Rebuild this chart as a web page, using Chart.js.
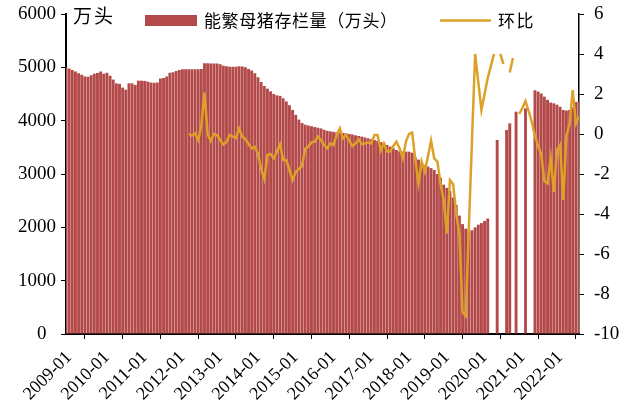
<!DOCTYPE html>
<html>
<head>
<meta charset="utf-8">
<script src="https://cdn.jsdelivr.net/npm/chart.js@4.4.0/dist/chart.umd.min.js"></script>
<style>
  html, body { margin: 0; padding: 0; background: #fff; }
</style>
</head>
<body>
<canvas id="chart" width="620" height="403"></canvas>
<script>
// monthly series, index 0 = 2009-01, last = 2022-08
const startYear = 2009;
const sowStock = [
  4990, 4980, 4950, 4920, 4890, 4860, 4830, 4825, 4850, 4880, 4895, 4920,   // 2009
  4880, 4900, 4840, 4770, 4700, 4690, 4620, 4580, 4700, 4700, 4670, 4750,   // 2010
  4750, 4745, 4730, 4715, 4710, 4715, 4790, 4800, 4830, 4900, 4910, 4930,   // 2011
  4950, 4963, 4963, 4963, 4963, 4963, 4963, 4970, 5075, 5075, 5070, 5070,   // 2012
  5070, 5060, 5030, 5020, 5013, 5013, 5010, 5020, 5015, 5000, 4970, 4940,   // 2013
  4890, 4815, 4725, 4650, 4600, 4550, 4500, 4475, 4465, 4420, 4360, 4290,   // 2014
  4200, 4110, 4020, 3955, 3925, 3910, 3895, 3880, 3868, 3856, 3830, 3810,   // 2015
  3800, 3790, 3780, 3775, 3770, 3763, 3750, 3740, 3725, 3712, 3700, 3685,   // 2016
  3669, 3653, 3638, 3619, 3600, 3575, 3544, 3513, 3481, 3450, 3425, 3420,   // 2017
  3420, 3419, 3400, 3310, 3270, 3210, 3170, 3140, 3110, 3075, 3000, 2930,   // 2018
  2800, 2740, 2680, 2560, 2420, 2220, 2060, 1975, 1950, 1945, 2000, 2050,   // 2019
  2080, 2120, 2165, null, null, 3638, null, null, 3825, 3950, null, 4169,   // 2020
  null, null, 4231, null, null, 4570, 4545, 4510, 4450, 4390, 4340, 4325,   // 2021
  4300, 4260, 4200, 4190, 4200, 4250, 4350, 4360                            // 2022
];
const momChange = [
  null, null, null, null, null, null, null, null, null, null, null, null,   // 2009
  null, null, null, null, null, null, null, null, null, null, null, null,   // 2010
  null, null, null, null, null, null, null, null, null, null, null, null,   // 2011
  null, null, null, 0.0, -0.08, 0.03, -0.3, 0.45, 2.08, 0.0, -0.35, 0.0,     // 2012
  -0.05, -0.3, -0.52, -0.4, -0.05, -0.13, -0.2, 0.28, -0.13, -0.25, -0.5, -0.72,
  -0.65, -1.0, -1.75, -2.25, -1.05, -1.0, -1.22, -0.88, -0.52, -1.3, -1.3, -1.8,
  -2.3, -1.9, -1.75, -1.6, -0.75, -0.63, -0.42, -0.38, -0.13, -0.3, -0.55, -0.72,
  -0.47, -0.55, -0.05, 0.28, -0.22, -0.05, -0.33, -0.6, -0.47, -0.27, -0.5, -0.47,
  -0.43, -0.47, -0.05, -0.05, -0.83, -0.47, -0.88, -0.88, -0.6, -0.38, -0.72, -1.22,
  -0.38, 0.0, 0.07, -1.3, -2.47, -1.38, -1.88, -1.13, -0.33, -1.22, -1.38, -2.47,
  -3.3, -4.97, -2.3, -2.5, -4.0, -5.0, -8.9, -9.1, -4.7, -0.3, 4.0, 2.6,      // 2019
  1.2, 2.0, 2.8, 3.4, 4.0, null, 4.0, 3.5, null, 3.07, 3.8, null,            // 2020
  1.0, 1.3, 1.65, 1.15, 0.6, -0.1, -0.6, -1.0, -2.35, -2.47, -1.2, -2.9,     // 2021
  -0.8, -0.55, -3.3, -0.1, 0.5, 2.2, 0.53, 0.87                             // 2022
];
const leftTicks = [0, 1000, 2000, 3000, 4000, 5000, 6000];
const rightTicks = [-10, -8, -6, -4, -2, 0, 2, 4, 6];
const yearTicks = [0, 12, 24, 36, 48, 60, 72, 84, 96, 108, 120, 132, 144, 156];

const barColor = '#b34949';
const lineColor = '#dda12a';
const serif = '"Liberation Serif", "Times New Roman", serif';
const cjk = '"Noto Sans CJK SC", "Noto Sans", sans-serif';

const barData = [];
sowStock.forEach((v, i) => { if (v !== null) barData.push({x: i, y: v}); });
const lineData = momChange.map((v, i) => ({x: i, y: v}));

// legend and unit label drawn on top
const overlay = {
    id: 'overlay',
    afterDraw(chart) {
        const ctx = chart.ctx;
        ctx.save();
        ctx.fillStyle = '#000';
        ctx.textBaseline = 'middle';
        ctx.font = '19px ' + cjk;
        ctx.letterSpacing = '2px';
        ctx.fillText('万头', 73, 16);
        ctx.letterSpacing = '0.6px';
        ctx.font = '17px ' + cjk;
        ctx.fillStyle = barColor;
        ctx.fillRect(145, 15, 52, 11);
        ctx.fillStyle = '#000';
        ctx.fillText('能繁母猪存栏量（万头）', 204, 21);
        ctx.strokeStyle = lineColor;
        ctx.lineWidth = 2.5;
        ctx.beginPath();
        ctx.moveTo(440, 20.5);
        ctx.lineTo(491, 20.5);
        ctx.stroke();
        ctx.letterSpacing = '1.5px';
        ctx.fillText('环比', 498, 21);
        ctx.restore();
    }
};

// keep the plot area fixed: no extra padding from tick labels
function fixY(width) {
    return s => {
        s.width = width;
        s.paddingTop = 0;
        s.paddingBottom = 0;
    };
}

new Chart(document.getElementById('chart'), {
    type: 'bar',
    data: {
        datasets: [
            {
                type: 'line',
                label: '环比',
                data: lineData,
                yAxisID: 'y1',
                borderColor: lineColor,
                borderWidth: 2.5,
                pointRadius: 0,
                tension: 0,
                spanGaps: false,
                order: 1
            },
            {
                type: 'bar',
                label: '能繁母猪存栏量（万头）',
                data: barData,
                yAxisID: 'y',
                backgroundColor: barColor,
                barPercentage: 0.92,
                categoryPercentage: 1,
                order: 2
            }
        ]
    },
    options: {
        responsive: false,
        animation: false,
        devicePixelRatio: 1,
        layout: { padding: { top: 14, left: 0, right: 0, bottom: 0 } },
        plugins: { legend: { display: false }, tooltip: { enabled: false } },
        scales: {
            x: {
                type: 'linear',
                min: 0,
                max: 163,
                offset: false,
                afterBuildTicks: s => { s.ticks = yearTicks.map(v => ({value: v})); },
                afterFit: s => { s.height = 69; },
                grid: { drawOnChartArea: false, drawTicks: true, tickLength: 5, color: '#000', lineWidth: 1 },
                border: { color: '#000', width: 2 },
                ticks: {
                    autoSkip: false,
                    maxRotation: 45,
                    minRotation: 45,
                    padding: 8,
                    labelOffset: 3,
                    color: '#000',
                    font: { family: serif, size: 18 },
                    callback: v => (startYear + v / 12) + '-01'
                }
            },
            y: {
                position: 'left',
                min: 0,
                max: 6000,
                afterBuildTicks: s => { s.ticks = leftTicks.map(v => ({value: v})); },
                afterFit: fixY(66),
                grid: { drawOnChartArea: false, drawTicks: true, tickLength: 5, color: '#000', lineWidth: 1 },
                border: { color: '#000', width: 2 },
                ticks: {
                    padding: 5,
                    color: '#000',
                    font: { family: serif, size: 19 },
                    callback: v => (v === 0 ? '0  ' : String(v))
                }
            },
            y1: {
                position: 'right',
                min: -10,
                max: 6,
                afterBuildTicks: s => { s.ticks = rightTicks.map(v => ({value: v})); },
                afterFit: fixY(41),
                grid: { drawOnChartArea: false, drawTicks: true, tickLength: 5, color: '#000', lineWidth: 1 },
                border: { color: '#000', width: 1.5 },
                ticks: {
                    padding: 10,
                    color: '#000',
                    font: { family: serif, size: 19 },
                    callback: v => String(v)
                }
            }
        }
    },
    plugins: [overlay]
});
</script>
</body>
</html>
